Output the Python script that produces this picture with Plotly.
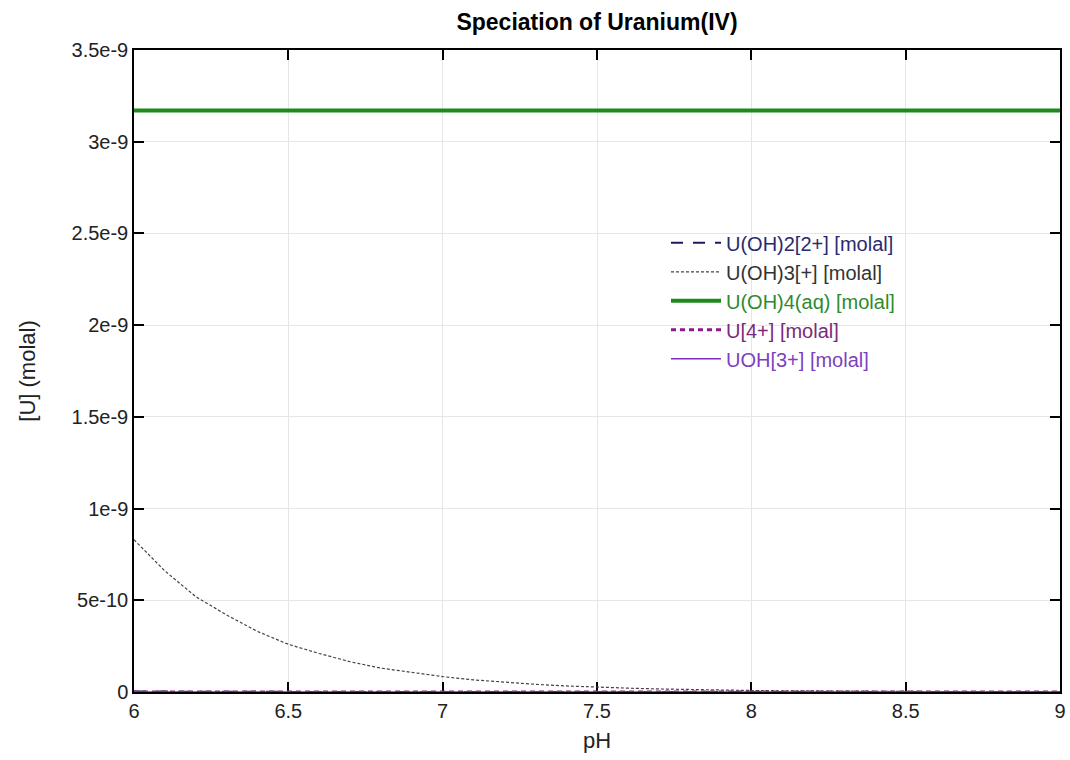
import plotly.graph_objects as go

ph = [6.0, 6.1, 6.2, 6.3, 6.4, 6.5, 6.6, 6.7, 6.8, 6.9, 7.0, 7.1, 7.2, 7.3, 7.4, 7.5,
      7.6, 7.7, 7.8, 7.9, 8.0, 8.1, 8.2, 8.3, 8.4, 8.5, 8.6, 8.7, 8.8, 8.9, 9.0]

u_oh2 = [2.6e-12, 1.6e-12, 1.0e-12, 6.5e-13, 4.1e-13, 2.6e-13, 1.6e-13, 1.0e-13, 6.5e-14, 4.1e-14,
         2.6e-14, 1.6e-14, 1.0e-14, 6.5e-15, 4.1e-15, 2.6e-15, 1.6e-15, 1.0e-15, 6.5e-16, 4.1e-16,
         2.6e-16, 1.6e-16, 1.0e-16, 6.5e-17, 4.1e-17, 2.6e-17, 1.6e-17, 1.0e-17, 6.5e-18, 4.1e-18, 2.6e-18]

u_oh3 = [8.3e-10, 6.6e-10, 5.2e-10, 4.2e-10, 3.3e-10, 2.6e-10, 2.1e-10, 1.65e-10, 1.3e-10, 1.05e-10,
         8.4e-11, 6.6e-11, 5.2e-11, 4.2e-11, 3.3e-11, 2.6e-11, 2.1e-11, 1.65e-11, 1.3e-11, 1.05e-11,
         8.3e-12, 6.6e-12, 5.2e-12, 4.2e-12, 3.3e-12, 2.6e-12, 2.1e-12, 1.65e-12, 1.3e-12, 1.05e-12, 8.3e-13]

u_oh4 = [3.17e-9] * 31

u4 = [1.0e-16, 4.0e-17, 1.6e-17, 6.3e-18, 2.5e-18, 1.0e-18, 4.0e-19, 1.6e-19, 6.3e-20, 2.5e-20,
      1.0e-20, 4.0e-21, 1.6e-21, 6.3e-22, 2.5e-22, 1.0e-22, 4.0e-23, 1.6e-23, 6.3e-24, 2.5e-24,
      1.0e-24, 4.0e-25, 1.6e-25, 6.3e-26, 2.5e-26, 1.0e-26, 4.0e-27, 1.6e-27, 6.3e-28, 2.5e-28, 1.0e-28]

uoh3 = [6.0e-14, 3.0e-14, 1.5e-14, 7.5e-15, 3.8e-15, 1.9e-15, 9.5e-16, 4.8e-16, 2.4e-16, 1.2e-16,
        6.0e-17, 3.0e-17, 1.5e-17, 7.5e-18, 3.8e-18, 1.9e-18, 9.5e-19, 4.8e-19, 2.4e-19, 1.2e-19,
        6.0e-20, 3.0e-20, 1.5e-20, 7.5e-21, 3.8e-21, 1.9e-21, 9.5e-22, 4.8e-22, 2.4e-22, 1.2e-22, 6.0e-23]

x_ticks = [6, 6.5, 7, 7.5, 8, 8.5, 9]
x_text = ["6", "6.5", "7", "7.5", "8", "8.5", "9"]
y_ticks = [0, 0.5e-9, 1e-9, 1.5e-9, 2e-9, 2.5e-9, 3e-9, 3.5e-9]
y_text = ["0", "5e-10", "1e-9", "1.5e-9", "2e-9", "2.5e-9", "3e-9", "3.5e-9"]

# name, values, line colour, width, dash, legend text colour
series = [
    ("U(OH)2[2+] [molal]", u_oh2, "#1c1c5c", 2, "12px,10px", "#2a2a6e"),
    ("U(OH)3[+] [molal]", u_oh3, "#444444", 1.2, "3px,2px", "#333333"),
    ("U(OH)4(aq) [molal]", u_oh4, "#1e8a1e", 4, "solid", "#2e8b2e"),
    ("U[4+] [molal]", u4, "#8b1a8b", 3, "5px,4px", "#7a2a7a"),
    ("UOH[3+] [molal]", uoh3, "#7a2fbf", 1.5, "solid", "#7b3fbf"),
]

fig = go.Figure()
for name, vals, color, width, dash, tcolor in series:
    fig.add_trace(go.Scatter(
        x=ph, y=vals, mode="lines",
        name=f"<span style='color:{tcolor}'>{name}</span>",
        line=dict(color=color, width=width, dash=dash),
    ))

fig.update_layout(
    width=1070, height=760,
    margin=dict(l=134, r=10, t=50, b=68),
    paper_bgcolor="white", plot_bgcolor="white",
    font=dict(family="Liberation Sans, Arial, sans-serif", size=20, color="#222222"),
    title=dict(text="<b>Speciation of Uranium(IV)</b>", x=0.5, xref="paper", y=1 - 22 / 760,
               xanchor="center", yanchor="middle",
               font=dict(size=23, color="#000000")),
    showlegend=True,
    legend=dict(x=0.5745, y=0.73, xanchor="left", yanchor="top",
                bgcolor="rgba(0,0,0,0)", font=dict(size=20),
                itemwidth=50, tracegroupgap=0),
    xaxis=dict(range=[6, 9], tickvals=x_ticks, ticktext=x_text, automargin=False,
               ticks="inside", ticklen=10, tickcolor="#000", tickwidth=1.5,
               showline=True, linecolor="#000", linewidth=1.5, mirror="ticks",
               showgrid=True, gridcolor="#e6e6e6", gridwidth=1, zeroline=False,
               layer="below traces", ticklabeloverflow="allow",
               title=dict(text="pH", font=dict(size=22), standoff=12),
               tickfont=dict(size=20, color="#222222")),
    yaxis=dict(range=[0, 3.5e-9], tickvals=y_ticks, ticktext=y_text, automargin=False,
               ticks="inside", ticklen=10, tickcolor="#000", tickwidth=1.5,
               showline=True, linecolor="#000", linewidth=1.5, mirror="ticks",
               showgrid=True, gridcolor="#e6e6e6", gridwidth=1, zeroline=False,
               layer="below traces",
               tickfont=dict(size=20, color="#222222"),
               title=dict(text="[U] (molal)", font=dict(size=22), standoff=30)),
)

fig.write_html(
    "out.html",
    config={"displayModeBar": False},
    post_script="document.body.style.margin='0';document.body.style.overflow='hidden';",
)
